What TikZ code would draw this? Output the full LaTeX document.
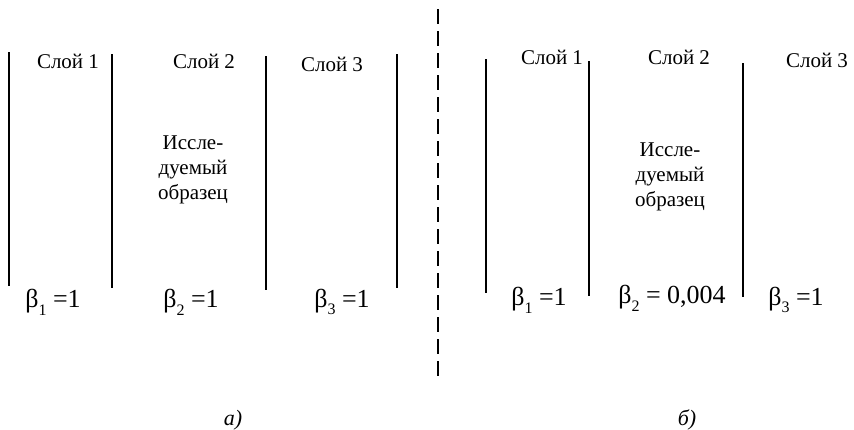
\documentclass[tikz,border=0pt]{standalone}
\usepackage{fontspec}
\setmainfont{Liberation Serif}
\newcommand{\lbsub}[1]{\raisebox{-0.3em}{\fontsize{16}{18}\selectfont #1}}
\begin{document}
\begin{tikzpicture}[x=1pt,y=-1pt,
  wall/.style={line width=2pt},
  layertxt/.style={font=\fontsize{21}{22}\selectfont, inner sep=0pt},
  sampletxt/.style={font=\fontsize{21}{25}\selectfont, align=center, inner sep=0pt},
  betatxt/.style={font=\fontsize{26}{28}\selectfont, inner sep=0pt},
  captxt/.style={font=\fontsize{22}{24}\selectfont\itshape, inner sep=0pt},
  divider/.style={line width=2pt, dash pattern=on 15pt off 7pt}]
\useasboundingbox (0,0) rectangle (854,429);
% left panel walls
\draw[wall] (9,52) -- (9,286);
\draw[wall] (112,54) -- (112,288);
\draw[wall] (266,56) -- (266,290);
\draw[wall] (397,54) -- (397,288);
\node[layertxt] (la1) at (68,61) {Слой 1};
\node[layertxt] (la2) at (204,61) {Слой 2};
\node[layertxt] (la3) at (332,64) {Слой 3};
\node[sampletxt] (sa) at (193,170) {Иссле-\\дуемый\\образец};
\node[betatxt] (ba1) at (53,302) {β\lbsub{1} =1};
\node[betatxt] (ba2) at (191,302) {β\lbsub{2} =1};
\node[betatxt] (ba3) at (342,302) {β\lbsub{3} =1};
% divider
\draw[divider] (438,9) -- (438,377);
% right panel walls
\draw[wall] (486,59) -- (486,293);
\draw[wall] (589,61) -- (589,296);
\draw[wall] (743,63) -- (743,297);
\node[layertxt] (lb1) at (552,57) {Слой 1};
\node[layertxt] (lb2) at (679,57) {Слой 2};
\node[layertxt] (lb3) at (817,60) {Слой 3};
\node[sampletxt] (sb) at (670,177) {Иссле-\\дуемый\\образец};
\node[betatxt] (bb1) at (539,300) {β\lbsub{1} =1};
\node[betatxt] (bb2) at (672,298) {β\lbsub{2} = 0,004};
\node[betatxt] (bb3) at (796,300) {β\lbsub{3} =1};
% captions
\node[captxt] (ca) at (233,420) {а)};
\node[captxt] (cb) at (687,420) {б)};
\end{tikzpicture}
\end{document}
